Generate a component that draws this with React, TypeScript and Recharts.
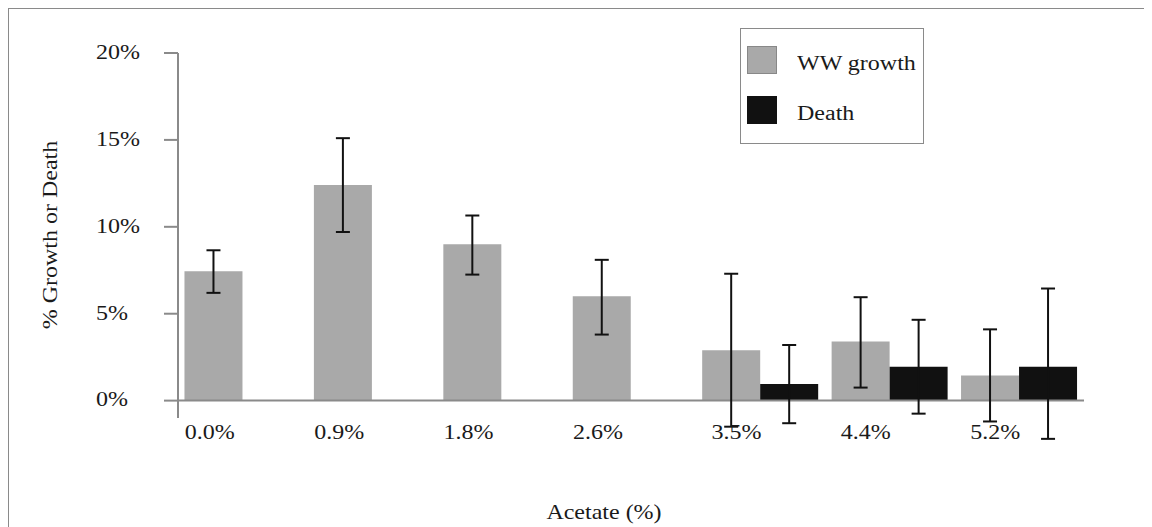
import { BarChart, Bar, XAxis, YAxis, ErrorBar, ReferenceLine, Legend } from 'recharts';

const CATEGORIES = ['0.0%', '0.9%', '1.8%', '2.6%', '3.5%', '4.4%', '5.2%'];
const GROWTH = [7.45, 12.4, 9.0, 6.0, 2.9, 3.4, 1.45];
const GROWTH_ERR = [[1.25, 1.2], [2.7, 2.7], [1.75, 1.65], [2.2, 2.1], [4.4, 4.4], [2.65, 2.55], [2.65, 2.65]];
const DEATH = [null, null, null, null, 0.95, 1.95, 1.95];
const DEATH_ERR = [null, null, null, null, [2.25, 2.25], [2.7, 2.7], [4.15, 4.5]];
const Y_TICKS = [0, 5, 10, 15, 20];
const SERIES = ['WW growth', 'Death'];

const data = CATEGORIES.map((acetate, i) => ({
  acetate,
  growth: GROWTH[i],
  growthErr: GROWTH_ERR[i],
  death: DEATH[i],
  deathErr: DEATH_ERR[i],
}));

const FONT = '"Liberation Serif", "Times New Roman", serif';
const AXIS_GRAY = '#8a8a8a';
const STRETCH = 1.2;

function StretchText({ x, y, anchor = 'middle', rotate = false, children }: any) {
  return (
    <text
      transform={`translate(${x},${y})${rotate ? ' rotate(-90)' : ''} scale(${STRETCH},1)`}
      textAnchor={anchor}
      dominantBaseline="central"
      fontFamily={FONT}
      fontSize={20}
      fill="#1a1a1a"
    >
      {children}
    </text>
  );
}

function XTick({ x, y, payload }: any) {
  const i = CATEGORIES.indexOf(payload.value);
  // labels sit under the grey bar, a bit further left when there is no death bar
  const shift = DEATH[i] != null ? -24 : -33;
  return <StretchText x={x + shift} y={y + 14}>{payload.value}</StretchText>;
}

function YTick({ x, y, payload }: any) {
  return <StretchText x={x - 68} y={y - 1} anchor="start">{`${payload.value}%`}</StretchText>;
}

function YLabel({ viewBox }: any) {
  return (
    <StretchText x={viewBox.x - 48} y={viewBox.y + 182} rotate>
      % Growth or Death
    </StretchText>
  );
}

function XLabel({ viewBox }: any) {
  return (
    <StretchText x={viewBox.x + viewBox.width / 2 - 27} y={viewBox.y + 94}>
      Acetate (%)
    </StretchText>
  );
}

function LegendBox({ payload }: any) {
  const items = [...(payload || [])].sort((a: any, b: any) => SERIES.indexOf(a.value) - SERIES.indexOf(b.value));
  return (
    <div
      style={{
        width: 184,
        height: 116,
        border: `1px solid ${AXIS_GRAY}`,
        boxSizing: 'border-box',
        background: '#fff',
        position: 'relative',
      }}
    >
      {items.map((p: any, i: number) => (
        <div key={p.value} style={{ position: 'absolute', left: 6, top: 17 + i * 50, height: 28, display: 'flex', alignItems: 'center' }}>
          <div
            style={{
              width: 30,
              height: 28,
              boxSizing: 'border-box',
              background: p.color,
              border: `1px solid ${i === 0 ? '#888' : '#111'}`,
            }}
          />
          <span
            style={{
              marginLeft: 20,
              fontFamily: FONT,
              fontSize: 20,
              color: '#1a1a1a',
              display: 'inline-block',
              transform: `scaleX(${STRETCH})`,
              transformOrigin: 'left center',
              whiteSpace: 'nowrap',
              marginTop: 6,
            }}
          >
            {p.value}
          </span>
        </div>
      ))}
    </div>
  );
}

export default function App() {
  return (
    <div
      style={{
        width: 1135,
        height: 518,
        borderTop: `1px solid ${AXIS_GRAY}`,
        borderLeft: `1px solid ${AXIS_GRAY}`,
        borderRight: `1px solid ${AXIS_GRAY}`,
        background: '#fff',
      }}
    >
      <BarChart
        width={1135}
        height={518}
        data={data}
        margin={{ top: 44, right: 60, left: 89, bottom: 79 }}
        barCategoryGap="5%"
        barGap={0}
      >
        <XAxis
          dataKey="acetate"
          height={30}
          axisLine={false}
          tickLine={false}
          tickSize={0}
          tickMargin={0}
          interval={0}
          tick={<XTick />}
          label={{ content: <XLabel /> }}
        />
        <YAxis
          type="number"
          width={80}
          domain={[-1, 20]}
          allowDataOverflow
          ticks={Y_TICKS}
          interval={0}
          tickSize={14}
          tickMargin={0}
          axisLine={{ stroke: AXIS_GRAY, strokeWidth: 2 }}
          tickLine={{ stroke: AXIS_GRAY, strokeWidth: 2 }}
          tick={<YTick />}
          label={{ content: <YLabel /> }}
        />
        <ReferenceLine y={0} stroke={AXIS_GRAY} strokeWidth={2} />
        <Bar dataKey="growth" name="WW growth" fill="#a9a9a9" isAnimationActive={false}>
          <ErrorBar dataKey="growthErr" width={7} stroke="#111" strokeWidth={2} isAnimationActive={false} />
        </Bar>
        <Bar dataKey="death" name="Death" fill="#111111" isAnimationActive={false}>
          <ErrorBar dataKey="deathErr" width={7} stroke="#111" strokeWidth={2} isAnimationActive={false} />
        </Bar>
        <Legend
          layout="vertical"
          align="center"
          verticalAlign="middle"
          content={<LegendBox />}
          wrapperStyle={{ left: 731, top: 19, width: 184, height: 116 }}
        />
      </BarChart>
    </div>
  );
}
